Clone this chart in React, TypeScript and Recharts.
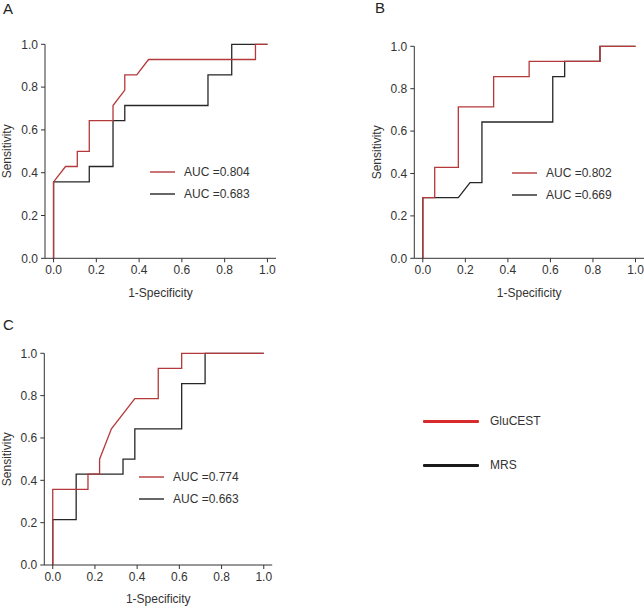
import React from 'react'
import { Legend, Line, LineChart, XAxis, YAxis } from 'recharts'

// panel A
const aGluX = [0, 0, 0.056, 0.111, 0.111, 0.167, 0.167, 0.278, 0.278, 0.333, 0.333, 0.389, 0.444, 0.944, 0.944, 1.0]
const aGluY = [0, 0.357, 0.429, 0.429, 0.5, 0.5, 0.643, 0.643, 0.714, 0.786, 0.857, 0.857, 0.929, 0.929, 1.0, 1.0]
const aMrsX = [0, 0, 0.167, 0.167, 0.278, 0.278, 0.333, 0.333, 0.722, 0.722, 0.833, 0.833, 1.0]
const aMrsY = [0, 0.357, 0.357, 0.429, 0.429, 0.643, 0.643, 0.714, 0.714, 0.857, 0.857, 1.0, 1.0]

// panel B
const bGluX = [0, 0, 0.056, 0.056, 0.167, 0.167, 0.333, 0.333, 0.5, 0.5, 0.833, 0.833, 1.0]
const bGluY = [0, 0.286, 0.286, 0.429, 0.429, 0.714, 0.714, 0.857, 0.857, 0.929, 0.929, 1.0, 1.0]
const bMrsX = [0, 0, 0.167, 0.222, 0.278, 0.278, 0.611, 0.611, 0.667, 0.667, 0.833, 0.833, 1.0]
const bMrsY = [0, 0.286, 0.286, 0.357, 0.357, 0.643, 0.643, 0.857, 0.857, 0.929, 0.929, 1.0, 1.0]

// panel C
const cGluX = [0, 0, 0.167, 0.167, 0.222, 0.222, 0.278, 0.389, 0.5, 0.5, 0.611, 0.611, 1.0]
const cGluY = [0, 0.357, 0.357, 0.429, 0.429, 0.5, 0.643, 0.786, 0.786, 0.929, 0.929, 1.0, 1.0]
const cMrsX = [0, 0, 0.111, 0.111, 0.333, 0.333, 0.389, 0.389, 0.611, 0.611, 0.722, 0.722, 1.0]
const cMrsY = [0, 0.214, 0.214, 0.429, 0.429, 0.5, 0.5, 0.643, 0.643, 0.857, 0.857, 1.0, 1.0]

const aucLabels = {
  A: ['AUC =0.804', 'AUC =0.683'],
  B: ['AUC =0.802', 'AUC =0.669'],
  C: ['AUC =0.774', 'AUC =0.663'],
}
const ticks = [0, 0.2, 0.4, 0.6, 0.8, 1.0]
const seriesNames = ['GluCEST', 'MRS']

const RED = '#b5383a'
const BLACK = '#262626'
const AXIS = '#333'
const FONT = '"Liberation Sans", Arial, Helvetica, sans-serif'

const zip = (xs: number[], ys: number[], key: string) =>
  xs.map((x, i) => ({ x, [key]: ys[i] }))

const YLabel = (props: any) => {
  const { viewBox } = props
  const x = viewBox.x + 2.5
  const y = viewBox.y + viewBox.height / 2
  return (
    <text
      x={x}
      y={y}
      transform={`rotate(-90 ${x} ${y})`}
      textAnchor='middle'
      dominantBaseline='central'
      fill={AXIS}
      fontSize={12}
      fontFamily={FONT}
    >
      Sensitivity
    </text>
  )
}

const AucLegend = (props: any) => {
  const order = ['glu', 'mrs']
  const items = [...(props.payload || [])].sort(
    (a: any, b: any) => order.indexOf(a.dataKey) - order.indexOf(b.dataKey)
  )
  return (
    <div style={{ fontFamily: FONT, fontSize: 12, color: AXIS }}>
      {items.map((it: any) => (
        <div key={it.dataKey} style={{ display: 'flex', alignItems: 'center', height: 22 }}>
          <svg width={25} height={4} style={{ marginRight: 9 }}>
            <line x1={0} x2={25} y1={2} y2={2} stroke={it.color} strokeWidth={1.4} />
          </svg>
          <span>{it.value}</span>
        </div>
      ))}
    </div>
  )
}

type PanelProps = {
  glu: any[]
  mrs: any[]
  labels: string[]
  left: number
  top: number
  width: number
  height: number
  margin: { top: number; right: number; bottom: number; left: number }
  legendPos: { left: number; top: number }
  xLabelOffset: number
}

function RocPanel({ glu, mrs, labels, left, top, width, height, margin, legendPos, xLabelOffset }: PanelProps) {
  return (
    <div style={{ position: 'absolute', left, top }}>
      <LineChart width={width} height={height} margin={margin}>
        <XAxis
          dataKey='x'
          type='number'
          domain={[-0.04, 1.04]}
          ticks={ticks}
          tickFormatter={(v) => v.toFixed(1)}
          allowDuplicatedCategory
          height={40}
          axisLine={{ stroke: AXIS }}
          tickLine={{ stroke: AXIS }}
          tickSize={4}
          tickMargin={3}
          tick={{ fill: AXIS, fontSize: 12, fontFamily: FONT }}
          label={{
            value: '1-Specificity',
            position: 'insideBottom',
            offset: xLabelOffset,
            fill: AXIS,
            fontSize: 12,
            fontFamily: FONT,
          }}
        />
        <YAxis
          type='number'
          domain={[0, 1]}
          ticks={ticks}
          tickFormatter={(v) => v.toFixed(1)}
          width={40}
          axisLine={{ stroke: AXIS }}
          tickLine={{ stroke: AXIS }}
          tickSize={4}
          tickMargin={3}
          tick={{ fill: AXIS, fontSize: 12, fontFamily: FONT }}
          label={<YLabel />}
        />
        <Line
          data={mrs}
          dataKey='mrs'
          name={labels[1]}
          type='linear'
          stroke={BLACK}
          strokeWidth={1.3}
          dot={false}
          isAnimationActive={false}
        />
        <Line
          data={glu}
          dataKey='glu'
          name={labels[0]}
          type='linear'
          stroke={RED}
          strokeWidth={1.3}
          dot={false}
          isAnimationActive={false}
        />
        <Legend
          content={<AucLegend />}
          layout='vertical'
          align='center'
          verticalAlign='middle'
          wrapperStyle={{ position: 'absolute', left: legendPos.left, top: legendPos.top, width: 120 }}
        />
      </LineChart>
    </div>
  )
}

const letterStyle: React.CSSProperties = {
  position: 'absolute',
  fontFamily: FONT,
  fontSize: 15,
  lineHeight: '15px',
  color: '#222',
}

export default function App() {
  return (
    <div
      style={{
        position: 'absolute',
        left: 0,
        top: 0,
        width: 644,
        height: 607,
        background: '#fff',
        overflow: 'hidden',
        fontFamily: FONT,
      }}
    >
      <div style={{ ...letterStyle, left: 3, top: 1 }}>A</div>
      <div style={{ ...letterStyle, left: 375, top: 0 }}>B</div>
      <div style={{ ...letterStyle, left: 3, top: 317 }}>C</div>

      <RocPanel
        glu={zip(aGluX, aGluY, 'glu')}
        mrs={zip(aMrsX, aMrsY, 'mrs')}
        labels={aucLabels.A}
        left={0}
        top={0}
        width={300}
        height={300}
        margin={{ top: 44.3, right: 24, bottom: 1.7, left: 5 }}
        legendPos={{ left: 150, top: 161 }}
        xLabelOffset={1}
      />
      <RocPanel
        glu={zip(bGluX, bGluY, 'glu')}
        mrs={zip(bMrsX, bMrsY, 'mrs')}
        labels={aucLabels.B}
        left={320}
        top={0}
        width={324}
        height={300}
        margin={{ top: 46.3, right: 0, bottom: 1.7, left: 54.3 }}
        legendPos={{ left: 192, top: 162 }}
        xLabelOffset={1}
      />
      <RocPanel
        glu={zip(cGluX, cGluY, 'glu')}
        mrs={zip(cMrsX, cMrsY, 'mrs')}
        labels={aucLabels.C}
        left={0}
        top={300}
        width={300}
        height={307}
        margin={{ top: 53.3, right: 27.8, bottom: 2, left: 4.3 }}
        legendPos={{ left: 139, top: 165.5 }}
        xLabelOffset={2}
      />

      <div style={{ position: 'absolute', left: 423, top: 410, fontSize: 12, color: AXIS }}>
        {seriesNames.map((n, i) => (
          <div
            key={n}
            style={{ display: 'flex', alignItems: 'center', height: 22, marginBottom: i === 0 ? 22 : 0 }}
          >
            <div
              style={{
                width: 56,
                height: 3,
                borderRadius: 1,
                background: i === 0 ? '#d82a2a' : '#1a1a1a',
                marginRight: 11,
              }}
            />
            <span>{n}</span>
          </div>
        ))}
      </div>
    </div>
  )
}
